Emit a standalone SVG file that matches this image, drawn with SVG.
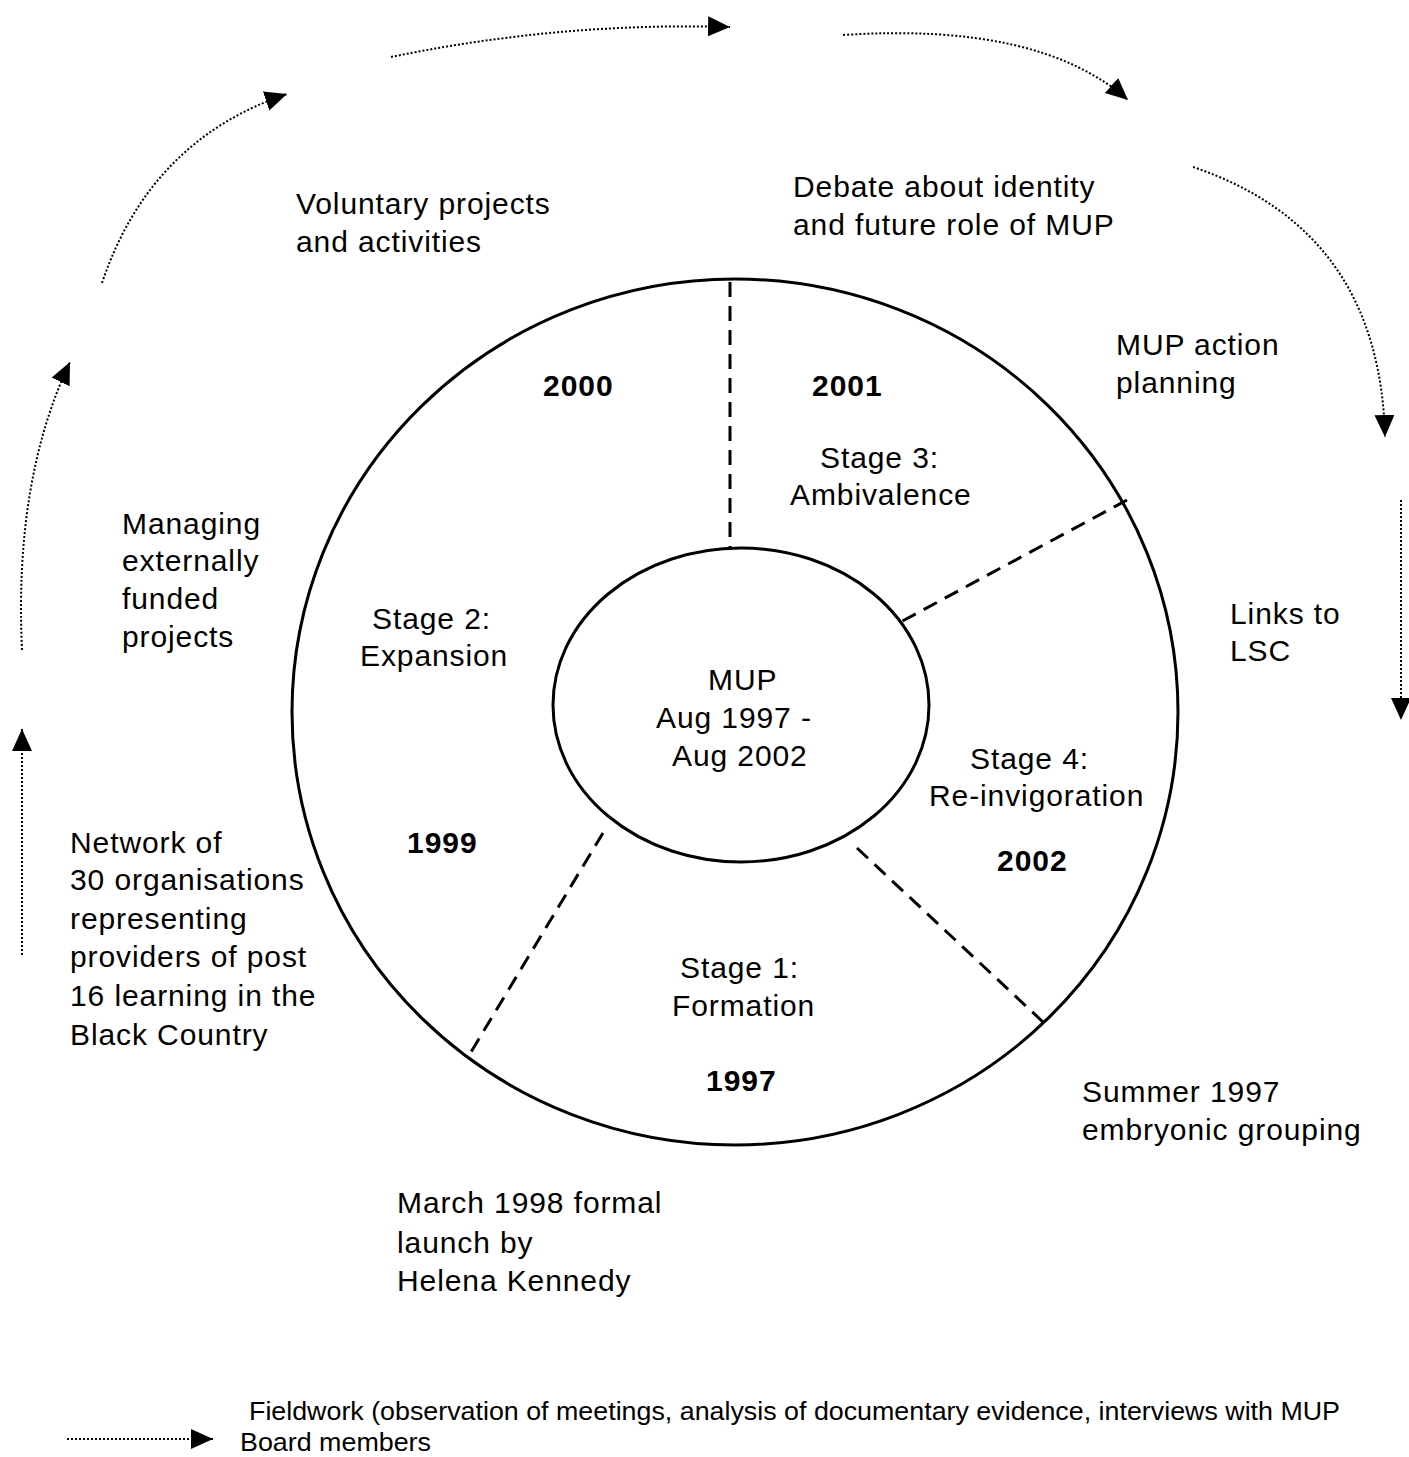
<svg xmlns="http://www.w3.org/2000/svg" width="1409" height="1457" viewBox="0 0 1409 1457">
<style>
.t{font-family:"Liberation Sans",Arial,sans-serif;font-size:30px;letter-spacing:0.9px;fill:#000}
.b{font-family:"Liberation Sans",Arial,sans-serif;font-size:30px;font-weight:bold;letter-spacing:1px;fill:#000}
.lg{font-family:"Liberation Sans",Arial,sans-serif;font-size:25px;fill:#000}
.ring{fill:none;stroke:#000;stroke-width:3}
.div{fill:none;stroke:#000;stroke-width:3;stroke-dasharray:15 9}
.arr{fill:none;stroke:#000;stroke-width:2;stroke-dasharray:2 2;marker-end:url(#ah)}
</style>
<defs>
<marker id="ah" markerUnits="userSpaceOnUse" markerWidth="24" markerHeight="22" refX="22" refY="10" orient="auto" viewBox="0 0 24 22">
<path d="M0,0 L22,10 L0,20 z" fill="#000"/>
</marker>
</defs>
<rect width="1409" height="1457" fill="#fff"/>
<g id="outer-ring"><ellipse class="ring" cx="735" cy="712" rx="443" ry="433"/></g>
<g id="dividers">
<line class="div" x1="730" y1="282" x2="730" y2="548"/>
<line class="div" x1="1127" y1="500" x2="895" y2="625"/>
<line class="div" x1="857" y1="848" x2="1043" y2="1022"/>
<line class="div" x1="603" y1="833" x2="468" y2="1057"/>
</g>
<g id="center"><ellipse class="ring" cx="741" cy="705" rx="188" ry="157"/>
<text class="t" x="708" y="690">MUP</text>
<text class="t" x="656" y="728">Aug 1997 -</text>
<text class="t" x="672" y="766">Aug 2002</text>
</g>
<g id="stage1"><text class="t" x="680" y="978">Stage 1:</text><text class="t" x="672" y="1016">Formation</text><text class="b" x="706" y="1091">1997</text></g>
<g id="stage2"><text class="t" x="372" y="629">Stage 2:</text><text class="t" x="360" y="666">Expansion</text><text class="b" x="407" y="853">1999</text><text class="b" x="543" y="396">2000</text></g>
<g id="stage3"><text class="t" x="820" y="468">Stage 3:</text><text class="t" x="790" y="505">Ambivalence</text><text class="b" x="812" y="396">2001</text></g>
<g id="stage4"><text class="t" x="970" y="769">Stage 4:</text><text class="t" x="929" y="806">Re-invigoration</text><text class="b" x="997" y="871">2002</text></g>
<g id="label-voluntary"><text class="t" x="296" y="214">Voluntary projects</text><text class="t" x="296" y="252">and activities</text></g>
<g id="label-debate"><text class="t" x="793" y="197">Debate about identity</text><text class="t" x="793" y="235">and future role of MUP</text></g>
<g id="label-action"><text class="t" x="1116" y="355">MUP action</text><text class="t" x="1116" y="393">planning</text></g>
<g id="label-managing"><text class="t" x="122" y="534">Managing</text><text class="t" x="122" y="571">externally</text><text class="t" x="122" y="609">funded</text><text class="t" x="122" y="647">projects</text></g>
<g id="label-lsc"><text class="t" x="1230" y="624">Links to</text><text class="t" x="1230" y="661">LSC</text></g>
<g id="label-network"><text class="t" x="70" y="853">Network of</text><text class="t" x="70" y="890">30 organisations</text><text class="t" x="70" y="929">representing</text><text class="t" x="70" y="967">providers of post</text><text class="t" x="70" y="1006">16 learning in the</text><text class="t" x="70" y="1045">Black Country</text></g>
<g id="label-summer"><text class="t" x="1082" y="1102">Summer 1997</text><text class="t" x="1082" y="1140">embryonic grouping</text></g>
<g id="label-march"><text class="t" x="397" y="1213">March 1998 formal</text><text class="t" x="397" y="1253">launch by</text><text class="t" x="397" y="1291">Helena Kennedy</text></g>
<g id="connectors">
<path class="arr" d="M22,955 L22,729"/>
<path class="arr" d="M22,650 Q14,480 70,362"/>
<path class="arr" d="M102,283 Q150,140 287,94"/>
<path class="arr" d="M391,57 Q560,22 730,27"/>
<path class="arr" d="M843,35 Q1040,22 1128,100"/>
<path class="arr" d="M1193,167 Q1380,230 1385,437"/>
<path class="arr" d="M1401,500 L1401,720"/>
</g>
<g id="legend">
<path class="arr" d="M67,1439 L213,1439"/>
<text class="lg" x="249" y="1420" textLength="1091" lengthAdjust="spacingAndGlyphs">Fieldwork (observation of meetings, analysis of documentary evidence, interviews with MUP</text>
<text class="lg" x="240" y="1451" textLength="191" lengthAdjust="spacingAndGlyphs">Board members</text>
</g>
</svg>
